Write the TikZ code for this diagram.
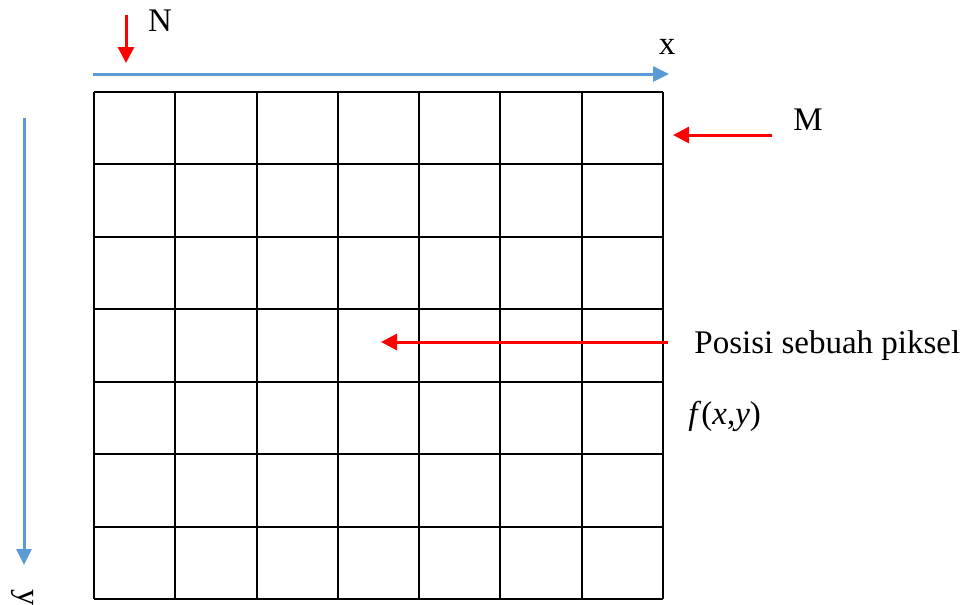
\documentclass[tikz,border=0pt]{standalone}
\usepackage{fontspec}
\setmainfont{Liberation Serif}
\usetikzlibrary{arrows.meta}
\definecolor{AxisBlue}{HTML}{5B9BD5}
\definecolor{MarkRed}{HTML}{FF0000}

\begin{document}
\begin{tikzpicture}[x=0.5pt, y=-0.5pt, every node/.style={font=\fontsize{16.5}{20}\selectfont, inner sep=0pt}]
    \tikzstyle{axis}=[draw=AxisBlue, line width=1.5pt, -{Triangle[length=8pt, width=7.5pt]}]
    \tikzstyle{pointer}=[draw=MarkRed, line width=1.5pt, -{Triangle[length=8pt, width=8pt]}]
    \tikzstyle{cell}=[draw=black, line width=1pt]
    \useasboundingbox (0,0) rectangle (964,605);
    % pixel grid, 7 x 7
    \foreach \i in {0,...,7} {
        \draw[cell] ({94+\i*81.29},92) -- ({94+\i*81.29},599);
        \draw[cell] (94,{92+\i*72.43}) -- (663,{92+\i*72.43});
    }
    % labels
    \node (N) at (160,21) {N};
    \node (x) at (667,47) {x};
    \node[anchor=west] (M) at (793,120) {M};
    \node[anchor=base west] (pos) at (694,353) {Posisi sebuah piksel};
    \node[anchor=base west] (fxy) at (688,424) {\textit{f}(\textit{x},\textit{y})};
    \node[rotate=-90] (y) at (23,598) {y};
    % arrow ends
    \coordinate (xs) at (93,74);
    \coordinate (xe) at (669,74);
    \coordinate (ys) at (24,118);
    \coordinate (ye) at (24,565);
    \coordinate (ns) at (126,15);
    \coordinate (ne) at (126,63);
    \coordinate (ms) at (772,135);
    \coordinate (me) at (673,135);
    \coordinate (ps) at (668,342);
    \coordinate (pe) at (381,342);
    \draw[axis] (xs) -- (xe);
    \draw[axis] (ys) -- (ye);
    \draw[pointer] (ns) -- (ne);
    \draw[pointer] (ms) -- (me);
    \draw[pointer] (ps) -- (pe);
\end{tikzpicture}
\end{document}
